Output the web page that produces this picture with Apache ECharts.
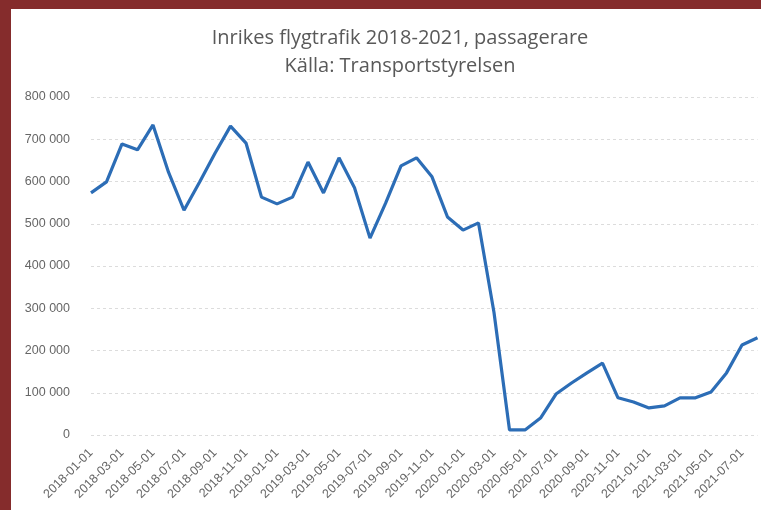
<!DOCTYPE html>
<html>
<head>
<meta charset="utf-8">
<script src="https://cdn.jsdelivr.net/npm/echarts@6/dist/echarts.min.js"></script>
<style>
html,body{margin:0;padding:0;background:#fff;}
#chart{width:761px;height:510px;}
</style>
</head>
<body>
<div id="chart"></div>
<script>
const titleText = 'Inrikes flygtrafik 2018-2021, passagerare';
const subtitleText = 'Källa: Transportstyrelsen';
const months = [
  '2018-01-01','2018-02-01','2018-03-01','2018-04-01','2018-05-01','2018-06-01',
  '2018-07-01','2018-08-01','2018-09-01','2018-10-01','2018-11-01','2018-12-01',
  '2019-01-01','2019-02-01','2019-03-01','2019-04-01','2019-05-01','2019-06-01',
  '2019-07-01','2019-08-01','2019-09-01','2019-10-01','2019-11-01','2019-12-01',
  '2020-01-01','2020-02-01','2020-03-01','2020-04-01','2020-05-01','2020-06-01',
  '2020-07-01','2020-08-01','2020-09-01','2020-10-01','2020-11-01','2020-12-01',
  '2021-01-01','2021-02-01','2021-03-01','2021-04-01','2021-05-01','2021-06-01',
  '2021-07-01','2021-08-01'
];
const passengers = [
  573000, 599000, 689000, 675000, 734000, 622000,
  532000, 598000, 667000, 731000, 691000, 563000,
  547000, 563000, 646000, 573000, 656000, 585000,
  466000, 548000, 637000, 656000, 611000, 516000,
  485000, 502000, 290000, 12000, 12000, 40000,
  97000, 123000, 147000, 170000, 88000, 78000,
  64000, 69000, 88000, 88000, 102000, 147000,
  213000, 230000
];
const yTicks = [0, 100000, 200000, 300000, 400000, 500000, 600000, 700000, 800000];

const chart = echarts.init(document.getElementById('chart'));
const fmt = v => String(v).replace(/\B(?=(\d{3})+(?!\d))/g, ' ');
chart.setOption({
  animation: false,
  backgroundColor: '#ffffff',
  title: {
    text: titleText + '\n' + subtitleText,
    left: 395,
    top: 19,
    textAlign: 'center',
    textStyle: {
      fontFamily: 'Open Sans',
      fontSize: 20,
      fontWeight: 'normal',
      color: '#595959',
      lineHeight: 28
    }
  },
  grid: { left: 91, right: 3.5, top: 97, bottom: 75, containLabel: false },
  xAxis: {
    type: 'category',
    data: months,
    boundaryGap: false,
    axisLine: { show: false },
    axisTick: { show: false },
    axisLabel: {
      interval: 1,
      rotate: 45,
      margin: 16,
      fontFamily: 'Liberation Sans',
      fontSize: 12.5,
      color: '#666666'
    },
    splitLine: { show: false }
  },
  yAxis: {
    type: 'value',
    min: yTicks[0],
    max: yTicks[yTicks.length - 1],
    interval: yTicks[1] - yTicks[0],
    axisLine: { show: false },
    axisTick: { show: false },
    axisLabel: {
      margin: 21,
      fontFamily: 'Liberation Sans',
      fontSize: 12.5,
      color: '#666666',
      formatter: fmt
    },
    splitLine: { show: true, lineStyle: { color: '#dcdcdc', type: [3, 3], width: 1 } }
  },
  series: [{
    type: 'line',
    data: passengers,
    symbol: 'none',
    lineStyle: { color: '#2c6db6', width: 3.2 },
    itemStyle: { color: '#2c6db6' }
  }],
  graphic: [
    { type: 'rect', shape: { x: 0, y: 0, width: 11, height: 510 }, style: { fill: '#852c2c' }, z: 100 },
    { type: 'rect', shape: { x: 0, y: 0, width: 761, height: 9 }, style: { fill: '#852c2c' }, z: 100 }
  ]
});
</script>
</body>
</html>
